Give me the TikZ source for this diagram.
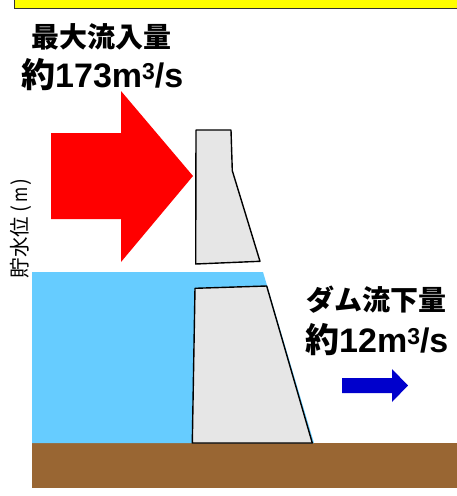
\documentclass[tikz,border=0pt]{standalone}
\usepackage{fontspec}
\newfontfamily\jp{Noto Sans CJK JP}
\newfontfamily\lat{Liberation Sans}
\definecolor{boxyellow}{HTML}{FFFF00}
\definecolor{water}{HTML}{66CCFF}
\definecolor{ground}{HTML}{996633}
\definecolor{damgray}{HTML}{E6E6E6}
\definecolor{inred}{HTML}{FF0000}
\definecolor{outblue}{HTML}{0000CC}
\newcommand{\cubesup}{\raisebox{8pt}{\lat\bfseries\fontsize{23}{23}\selectfont 3}}
\tikzset{
  damshape/.style={fill=damgray, draw=black, line width=1.4pt, line join=round},
  titletext/.style={inner sep=0pt, anchor=base west, font=\jp\bfseries\fontsize{28}{28}\selectfont},
  amounttext/.style={inner sep=0pt, anchor=base west},
}
\begin{document}
\begin{tikzpicture}[x=1pt, y=-1pt]
\useasboundingbox (0,0) rectangle (457,496);
% yellow box
\draw[fill=boxyellow, draw=black!80, line width=1pt] (14.5,-5) rectangle (462,8);
% ground
\fill[ground] (32,443) rectangle (457,488);
% water
\fill[water] (32,272) -- (263,272) -- (314,443) -- (32,443) -- cycle;
% upper dam
\draw[damshape] (196,130) -- (231,130) -- (232.3,170.7) -- (260,261.3) -- (195.7,264) -- cycle;
% lower dam
\draw[damshape] (195,288.3) -- (266.7,286) -- (312.3,443) -- (192.3,443) -- cycle;
% red arrow
\fill[inred] (51,133) -- (121,133) -- (121,91) -- (193,176) -- (121,262) -- (121,219) -- (51,219) -- cycle;
% blue arrow
\fill[outblue] (342,378) -- (392,378) -- (392,369) -- (408,385.5) -- (392,402) -- (392,393) -- (342,393) -- cycle;
% texts
\node[titletext] (intitle) at (31,47) {最大流入量};
\node[amounttext] (inval) at (21,87) {\jp\bfseries\fontsize{34}{34}\selectfont 約\lat\bfseries 173m\cubesup/s};
\node[titletext] (outtitle) at (306,310) {ダム流下量};
\node[amounttext] (outval) at (305,352) {\jp\bfseries\fontsize{34}{34}\selectfont 約\lat\bfseries 12m\cubesup/s};
\node[inner sep=0pt, rotate=90, anchor=west, font=\jp\fontsize{20.5}{20.5}\selectfont] (ylabel) at (21,278.5) {貯水位\hspace{4.5pt}(\hspace{2.5pt}\scalebox{0.8}[1]{m}\hspace{2.5pt})};
\end{tikzpicture}
\end{document}
